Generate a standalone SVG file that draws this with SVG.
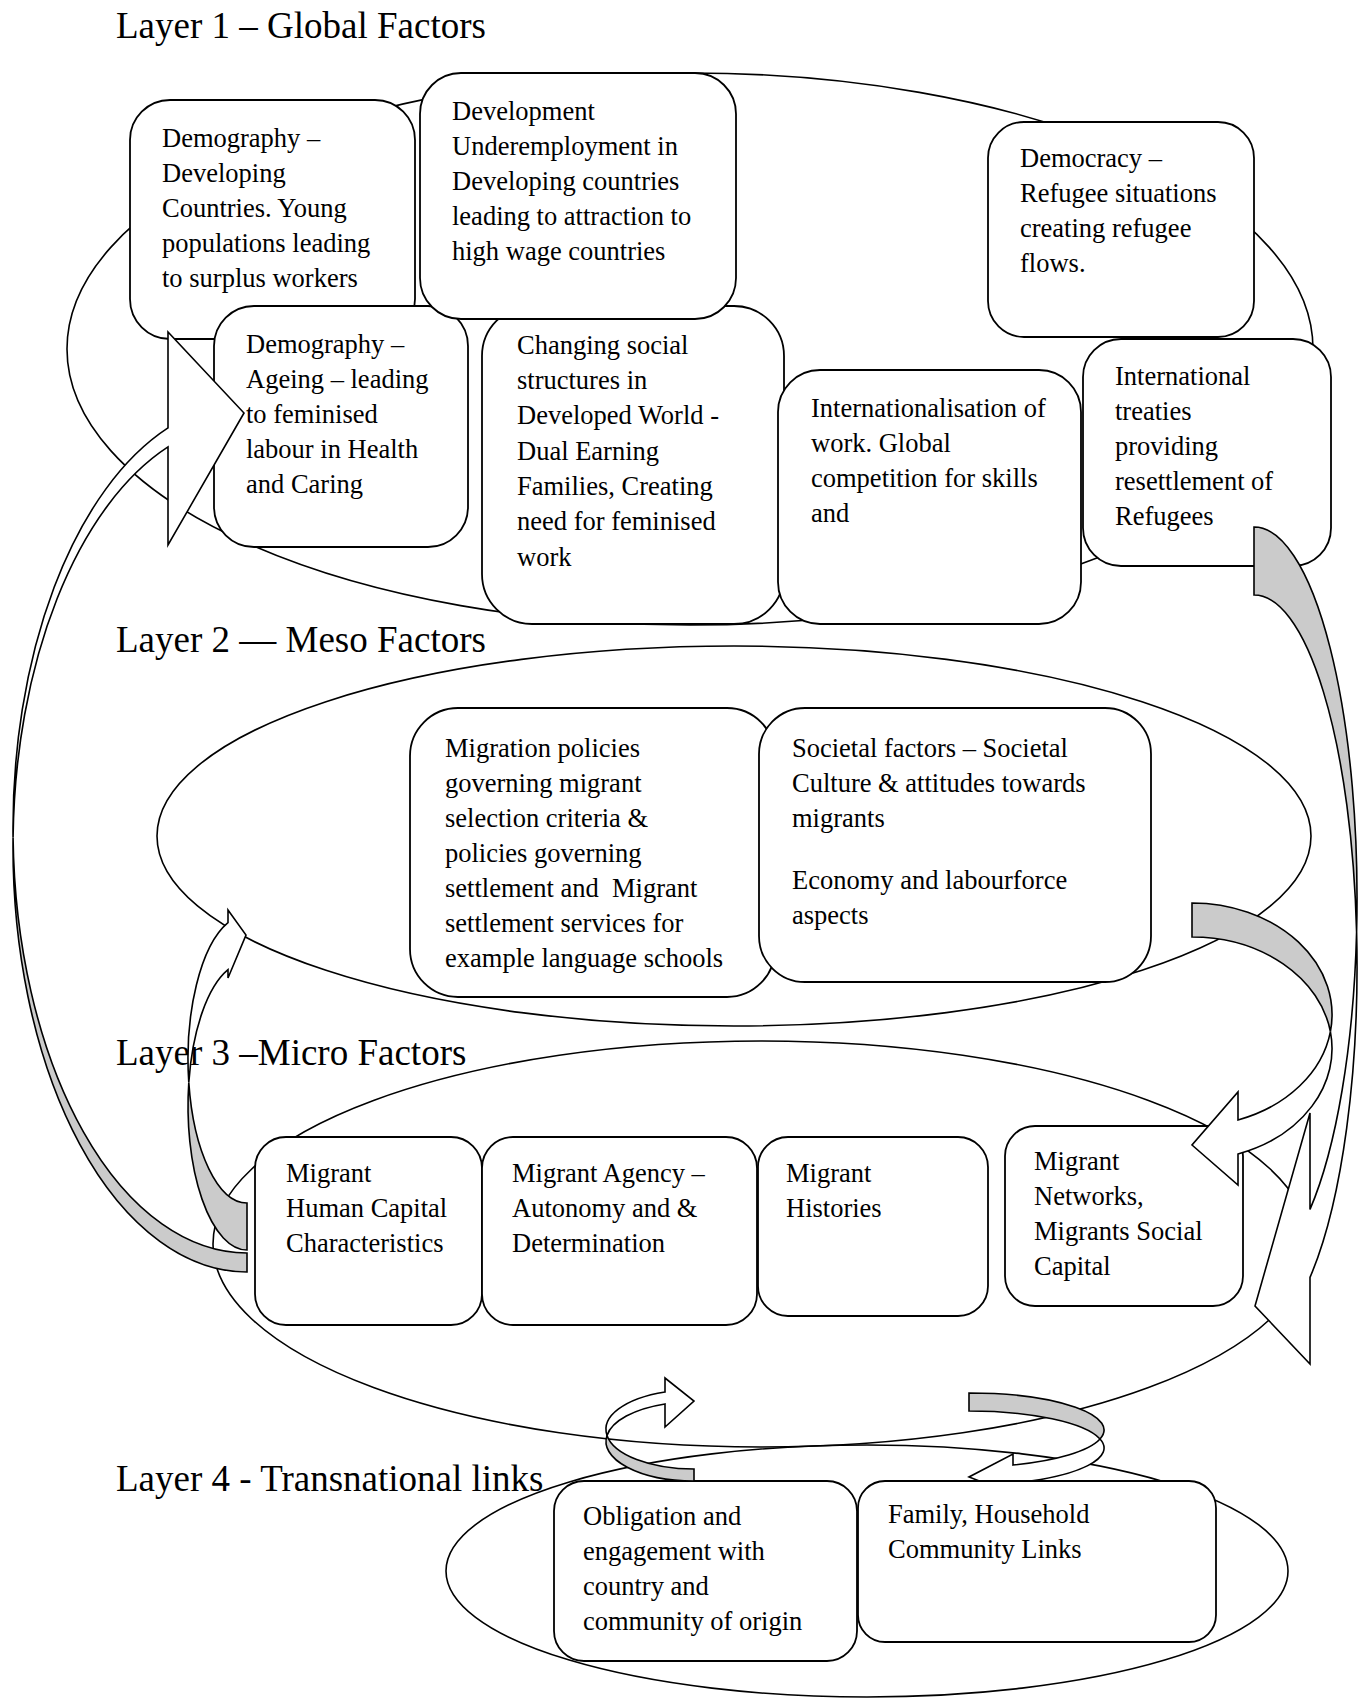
<svg xmlns="http://www.w3.org/2000/svg" width="1364" height="1698" viewBox="0 0 1364 1698">
<style>
.bg{fill:#fff}
.ell{fill:none;stroke:#000;stroke-width:1.6}
.box{fill:#fff;stroke:#000;stroke-width:1.8}
.t{font-family:"Liberation Serif","Times New Roman",serif;font-size:26.5px;fill:#000}
.title{font-family:"Liberation Serif","Times New Roman",serif;font-size:37px;fill:#000}
.front{fill:#fff;stroke:#000;stroke-width:1.6;stroke-linejoin:miter}
.back{fill:#cbcbcb;stroke:#000;stroke-width:1.6;stroke-linejoin:miter}
</style>
<defs>
<clipPath id="clipF"><rect x="0" y="0" width="1364" height="1480"/></clipPath>
</defs>
<rect class="bg" x="0" y="0" width="1364" height="1698"/>

<g id="layers">
<ellipse id="layer1-ellipse" class="ell" cx="690" cy="349" rx="623" ry="276"/>
<ellipse id="layer2-ellipse" class="ell" cx="734" cy="836" rx="577" ry="190"/>
<ellipse id="layer3-ellipse" class="ell" cx="761" cy="1244" rx="548" ry="203"/>
<ellipse id="layer4-ellipse" class="ell" cx="867" cy="1571" rx="421" ry="126"/>
<text class="title" x="116" y="38">Layer 1 – Global Factors</text>
<text class="title" x="116" y="652">Layer 2 — Meso Factors</text>
<text class="title" x="116" y="1065">Layer 3 –Micro Factors</text>
<text class="title" x="116" y="1491">Layer 4 - Transnational links</text>
</g>

<g id="n-demography-developing">
<rect class="box" x="130" y="100" width="285" height="239" rx="40"/>
<text class="t"><tspan x="162" y="147">Demography –</tspan><tspan x="162" y="182">Developing</tspan><tspan x="162" y="217">Countries. Young</tspan><tspan x="162" y="252">populations leading</tspan><tspan x="162" y="287">to surplus workers</tspan></text>
</g>
<g id="n-demography-ageing">
<rect class="box" x="214" y="306" width="254" height="241" rx="40"/>
<text class="t"><tspan x="246" y="353">Demography –</tspan><tspan x="246" y="388">Ageing – leading</tspan><tspan x="246" y="423">to feminised</tspan><tspan x="246" y="458">labour in Health</tspan><tspan x="246" y="493">and Caring</tspan></text>
</g>
<g id="n-social-structures">
<rect class="box" x="482" y="306" width="302" height="318" rx="50"/>
<text class="t"><tspan x="517" y="354">Changing social</tspan><tspan x="517" y="389">structures in</tspan><tspan x="517" y="424">Developed World -</tspan><tspan x="517" y="460">Dual Earning</tspan><tspan x="517" y="495">Families, Creating</tspan><tspan x="517" y="530">need for feminised</tspan><tspan x="517" y="566">work</tspan></text>
</g>
<g id="n-development">
<rect class="box" x="420" y="73" width="316" height="246" rx="41"/>
<text class="t"><tspan x="452" y="120">Development</tspan><tspan x="452" y="155">Underemployment in</tspan><tspan x="452" y="190">Developing countries</tspan><tspan x="452" y="225">leading to attraction to</tspan><tspan x="452" y="260">high wage countries</tspan></text>
</g>
<g id="n-internationalisation">
<rect class="box" x="778" y="370" width="303" height="254" rx="42"/>
<text class="t"><tspan x="811" y="417">Internationalisation of</tspan><tspan x="811" y="452">work. Global</tspan><tspan x="811" y="487">competition for skills</tspan><tspan x="811" y="522">and</tspan></text>
</g>
<g id="n-treaties">
<rect class="box" x="1083" y="339" width="248" height="227" rx="38"/>
<text class="t"><tspan x="1115" y="385">International</tspan><tspan x="1115" y="420">treaties</tspan><tspan x="1115" y="455">providing</tspan><tspan x="1115" y="490">resettlement of</tspan><tspan x="1115" y="525">Refugees</tspan></text>
</g>
<g id="n-democracy">
<rect class="box" x="988" y="122" width="266" height="215" rx="36"/>
<text class="t"><tspan x="1020" y="167">Democracy –</tspan><tspan x="1020" y="202">Refugee situations</tspan><tspan x="1020" y="237">creating refugee</tspan><tspan x="1020" y="272">flows.</tspan></text>
</g>

<g id="n-migration-policies">
<rect class="box" x="410" y="708" width="365" height="289" rx="48"/>
<text class="t"><tspan x="445" y="757">Migration policies</tspan><tspan x="445" y="792">governing migrant</tspan><tspan x="445" y="827">selection criteria &amp;</tspan><tspan x="445" y="862">policies governing</tspan><tspan x="445" y="897">settlement and&#160; Migrant</tspan><tspan x="445" y="932">settlement services for</tspan><tspan x="445" y="967">example language schools</tspan></text>
</g>
<g id="n-societal-factors">
<rect class="box" x="759" y="708" width="392" height="274" rx="46"/>
<text class="t"><tspan x="792" y="757">Societal factors – Societal</tspan><tspan x="792" y="792">Culture &amp; attitudes towards</tspan><tspan x="792" y="827">migrants</tspan><tspan x="792" y="889">Economy and labourforce</tspan><tspan x="792" y="924">aspects</tspan></text>
</g>

<g id="n-human-capital">
<rect class="box" x="255" y="1137" width="227" height="188" rx="31"/>
<text class="t"><tspan x="286" y="1182">Migrant</tspan><tspan x="286" y="1217">Human Capital</tspan><tspan x="286" y="1252">Characteristics</tspan></text>
</g>
<g id="n-agency">
<rect class="box" x="482" y="1137" width="275" height="188" rx="31"/>
<text class="t"><tspan x="512" y="1182">Migrant Agency –</tspan><tspan x="512" y="1217">Autonomy and &amp;</tspan><tspan x="512" y="1252">Determination</tspan></text>
</g>
<g id="n-histories">
<rect class="box" x="758" y="1137" width="230" height="179" rx="30"/>
<text class="t"><tspan x="786" y="1182">Migrant</tspan><tspan x="786" y="1217">Histories</tspan></text>
</g>
<g id="n-networks">
<rect class="box" x="1005" y="1126" width="238" height="180" rx="30"/>
<text class="t"><tspan x="1034" y="1170">Migrant</tspan><tspan x="1034" y="1205">Networks,</tspan><tspan x="1034" y="1240">Migrants Social</tspan><tspan x="1034" y="1275">Capital</tspan></text>
</g>

<g id="n-obligation">
<rect class="box" x="554" y="1481" width="303" height="180" rx="30"/>
<text class="t"><tspan x="583" y="1525">Obligation and</tspan><tspan x="583" y="1560">engagement with</tspan><tspan x="583" y="1595">country and</tspan><tspan x="583" y="1630">community of origin</tspan></text>
</g>
<g id="n-family">
<rect class="box" x="858" y="1481" width="358" height="161" rx="27"/>
<text class="t"><tspan x="888" y="1523">Family, Household</tspan><tspan x="888" y="1558">Community Links</tspan></text>
</g>

<g id="connectors">
<g id="arrow-micro-to-global">
<path class="back" d="M13.06,837.5 A234,425 0 0 0 247,1272 L247,1253 A234,425 0 0 1 13.06,837.5 Z"/>
<path class="front" d="M168,446.95 L168,545 L244,413 L168,332 L168,427.95 A234,425 0 0 0 13.06,837.5 A234,425 0 0 1 168,446.95 Z"/>
</g>
<g id="arrow-micro-to-meso">
<path class="back" d="M188.8,1082.5 A59,144 0 0 0 247,1250 L247,1203 A59,144 0 0 1 188.8,1082.5 Z"/>
<path class="front" d="M228,969.7 L228,978 L246,935 L228,910 L228,922.7 A59,144 0 0 0 188.8,1082.5 A59,144 0 0 1 228,969.7 Z"/>
</g>
<g id="arrow-global-to-micro">
<path class="back" d="M1254,527 A103,371 0 0 1 1356.6,932 A103,371 0 0 0 1254,595 Z"/>
<path class="front" d="M1356.6,932 A103,371 0 0 1 1310,1209.4 L1310,1113 L1255,1306 L1310,1364 L1310,1277.4 A103,371 0 0 0 1356.6,932 Z"/>
</g>
<g id="arrow-meso-to-networks">
<path class="back" d="M1192,903 A140,111.6 0 0 1 1330.4,1031.6 A140,111.6 0 0 0 1192,937 Z"/>
<path class="front" d="M1330.4,1031.6 A140,111.6 0 0 1 1238,1120 L1238,1092 L1192,1145 L1238,1185 L1238,1154 A140,111.6 0 0 0 1330.4,1031.6 Z"/>
</g>
<g id="arrow-transnational-to-micro">
<path class="back" d="M607,1435.4 A88,39.6 0 0 0 694,1481 L694,1469 A88,39.6 0 0 1 607,1435.4 Z"/>
<path class="front" d="M665,1404 L665,1427 L694,1401 L665,1378 L665,1392 A88,39.6 0 0 0 607,1435.4 A88,39.6 0 0 1 665,1404 Z"/>
</g>
<g id="arrow-micro-to-transnational" clip-path="url(#clipF)">
<path class="back" d="M969,1393 A135,37 0 0 1 1100,1439 A135,37 0 0 0 969,1411 Z"/>
<path class="front" d="M1100,1439 A135,37 0 0 1 1013,1465 L1013,1454 L969,1477 L1013,1494 L1013,1483 A135,37 0 0 0 1100,1439 Z"/>
</g>
</g>
</svg>
